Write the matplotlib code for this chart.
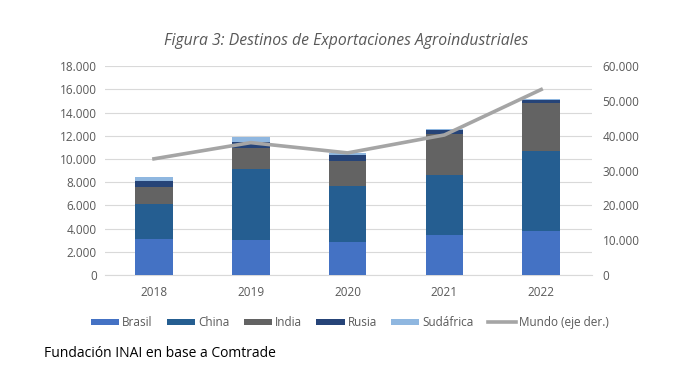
import matplotlib
matplotlib.use("Agg")
import matplotlib.pyplot as plt
import numpy as np
from matplotlib.ticker import FuncFormatter

years = ["2018", "2019", "2020", "2021", "2022"]
brasil = [3125, 3065, 2865, 3495, 3780]
china = [3005, 6095, 4810, 5150, 6950]
india = [1425, 1775, 2170, 3520, 4070]
rusia = [575, 515, 490, 345, 280]
sudafrica = [345, 480, 170, 85, 90]
mundo = [33400, 38050, 35100, 40250, 53300]

series = [("Brasil", brasil, "#4472C4"),
          ("China", china, "#255E91"),
          ("India", india, "#636363"),
          ("Rusia", rusia, "#264478"),
          ("Sudáfrica", sudafrica, "#8FB7E0")]

plt.rcParams['font.family'] = ['Open Sans', 'DejaVu Sans']

fig = plt.figure(figsize=(7.0, 3.87), dpi=100)
ax = fig.add_axes([0.15, 0.289, 0.696, 0.54])
ax2 = ax.twinx()

x = np.arange(len(years))
bottom = np.zeros(len(years))
handles = []
for name, vals, col in series:
    h = ax.bar(x, vals, width=0.39, bottom=bottom, color=col, label=name, zorder=3)
    bottom += np.array(vals)
    handles.append(h)

ln, = ax2.plot(x, mundo, color="#A5A5A5", lw=2.6, label="Mundo (eje der.)", zorder=4)
handles.append(ln)

fmt = FuncFormatter(lambda v, p: f"{int(v):,}".replace(",", "."))
ax.set_ylim(0, 18000)
ax.set_yticks(np.arange(0, 18001, 2000))
ax.yaxis.set_major_formatter(fmt)
ax2.set_ylim(0, 60000)
ax2.set_yticks(np.arange(0, 60001, 10000))
ax2.yaxis.set_major_formatter(fmt)
ax.set_xlim(-0.506, 4.527)
ax.set_xticks(x)
ax.set_xticklabels(years)

for a in (ax, ax2):
    for s in a.spines.values():
        s.set_visible(False)
    a.tick_params(length=0, labelsize=8.5, colors="#595959")
ax.tick_params(axis='y', pad=6)
ax2.tick_params(axis='y', pad=7.5)
ax.tick_params(axis='x', pad=8)
ax.grid(axis='y', color="#D9D9D9", lw=0.8, zorder=0)
ax.set_axisbelow(True)
ax.spines['bottom'].set_visible(True)
ax.spines['bottom'].set_color("#D9D9D9")

fig.text(0.494, 0.895, "Figura 3: Destinos de Exportaciones Agroindustriales",
         ha='center', va='center', fontsize=11.3, style='italic', color="#595959")

leg = fig.legend(handles=handles, labels=[h.get_label() for h in handles],
                 loc='center', bbox_to_anchor=(0.5, 0.166), ncol=6, frameon=False,
                 fontsize=8.5, handlelength=2.4, handleheight=0.5, columnspacing=1.2,
                 handletextpad=0.25)
for t in leg.get_texts():
    t.set_color("#595959")

fig.text(0.063, 0.087, "Fundación INAI en base a Comtrade", ha='left', va='center',
         fontsize=10, color="#000000")

fig.savefig("out.png", dpi=100)
